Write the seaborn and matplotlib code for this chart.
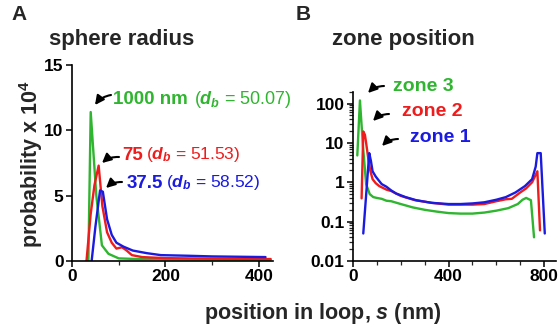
import numpy as np
import pandas as pd
import matplotlib
matplotlib.use("Agg")
import matplotlib.pyplot as plt
import seaborn as sns

# ---- data ----
# panel A: sphere radius, probability x 1e4
a_s_1000 = [35, 40, 52, 64, 78, 100, 140, 250, 425]
a_p_1000 = [0, 11.4, 5.0, 1.2, 0.55, 0.2, 0.15, 0.12, 0.1]
a_s_75 = [31, 40, 48, 57, 65, 75, 85, 95, 107, 117, 128, 150, 200, 300, 425]
a_p_75 = [0, 3.6, 5.8, 7.3, 4.2, 2.2, 1.4, 0.95, 1.05, 0.8, 0.45, 0.3, 0.22, 0.18, 0.15]
a_s_375 = [42, 50, 60, 66, 75, 85, 95, 110, 130, 160, 190, 250, 300, 414]
a_p_375 = [0, 2.6, 5.4, 5.3, 3.2, 2.0, 1.4, 1.1, 0.8, 0.6, 0.45, 0.4, 0.35, 0.3]

# panel B: zone position (log scale)
b_s_z3 = [18, 29, 42, 55, 70, 85, 100, 120, 140, 160, 200, 250, 300, 350, 400,
          450, 500, 550, 600, 650, 690, 710, 725, 745, 758]
b_v_z3 = [4.8, 120, 8, 0.9, 0.5, 0.42, 0.4, 0.38, 0.34, 0.33, 0.28, 0.23, 0.2, 0.18, 0.165,
          0.16, 0.16, 0.17, 0.19, 0.22, 0.28, 0.36, 0.4, 0.35, 0.04]
b_s_z2 = [36, 43, 50, 56, 64, 72, 82, 95, 110, 140, 160, 200, 260, 330, 400, 450, 500,
          550, 600, 640, 665, 700, 725, 750, 772, 783]
b_v_z2 = [0.39, 19.5, 16, 9, 4, 2.0, 1.2, 0.95, 0.8, 0.65, 0.6, 0.45, 0.35, 0.3, 0.27, 0.27,
          0.27, 0.28, 0.33, 0.37, 0.38, 0.55, 0.7, 1.0, 1.9, 0.06]
b_s_z1 = [43, 68, 75, 82, 95, 106, 120, 140, 160, 180, 220, 265, 330, 400, 450, 500, 550,
          600, 640, 680, 720, 750, 765, 772, 786, 803]
b_v_z1 = [0.05, 5.5, 3.5, 1.9, 1.4, 1.15, 0.9, 0.77, 0.62, 0.52, 0.42, 0.35, 0.3, 0.28, 0.28,
          0.29, 0.31, 0.36, 0.42, 0.55, 0.8, 1.2, 2.5, 5.5, 5.5, 0.05]

a_ticks_x = [0, 200, 400]
a_ticks_y = [0, 5, 10, 15]
b_ticks_x = [0, 400, 800]
b_ticks_y = [0.01, 0.1, 1, 10, 100]
b_tick_labels_y = ["0.01", "0.1", "1", "10", "100"]

GREEN = "#2fb52f"
RED = "#ee1c1c"
BLUE = "#1a1ae0"

sns.set_style("ticks")
plt.rcParams["font.family"] = ["Liberation Sans", "DejaVu Sans"]
plt.rcParams["font.weight"] = "bold"
plt.rcParams["mathtext.fontset"] = "custom"
plt.rcParams["mathtext.rm"] = "Liberation Sans"
plt.rcParams["mathtext.it"] = "Liberation Sans:italic"
plt.rcParams["mathtext.bf"] = "Liberation Sans:bold"
plt.rcParams["mathtext.bfit"] = "Liberation Sans:italic:bold"

W, H = 558, 329
fig = plt.figure(figsize=(W / 100, H / 100), dpi=100)


def fx(x):
    return x / W


def fy(y):
    return 1 - y / H


axA = fig.add_axes([fx(72), fy(261), (273 - 72) / W, (261 - 65) / H])
axB = fig.add_axes([fx(353), fy(261), (556 - 353) / W, (261 - 91.7) / H])

lw = 1.7
dfA = [(a_s_1000, a_p_1000, GREEN), (a_s_75, a_p_75, RED), (a_s_375, a_p_375, BLUE)]
for s, p, c in dfA:
    sns.lineplot(x=s, y=p, ax=axA, color=c, lw=lw, sort=False, estimator=None)

dfB = [(b_s_z3, b_v_z3, GREEN), (b_s_z2, b_v_z2, RED), (b_s_z1, b_v_z1, BLUE)]
for s, v, c in dfB:
    sns.lineplot(x=s, y=v, ax=axB, color=c, lw=lw, sort=False, estimator=None)

# axis A
axA.set_xlim(0, 430)
axA.set_ylim(0, 15)
axA.set_xticks(a_ticks_x)
axA.set_xticks([100, 300], minor=True)
axA.set_yticks(a_ticks_y)
axA.set_xlabel("")
axA.set_ylabel("")

# axis B
axB.set_yscale("log")
axB.set_xlim(0, 850)
axB.set_ylim(0.01, 200)
axB.set_xticks(b_ticks_x)
axB.set_xticks([100, 200, 300, 500, 600, 700], minor=True)
axB.set_yticks(b_ticks_y)
axB.set_yticklabels(b_tick_labels_y)
axB.set_xlabel("")
axB.set_ylabel("")

for ax in (axA, axB):
    sns.despine(ax=ax)
    for sp in ("left", "bottom"):
        ax.spines[sp].set_linewidth(1.2)
        ax.spines[sp].set_color("black")
    ax.tick_params(which="major", length=4, width=1.1, labelsize=12.5, pad=2, colors="black")
    ax.tick_params(which="minor", length=3, width=0.9)
    for lab in ax.get_xticklabels() + ax.get_yticklabels():
        lab.set_fontweight("bold")

# panel letters and titles
fig.text(fx(11), fy(14), "A", fontsize=15, fontweight="bold", va="center", ha="left")
fig.text(fx(296), fy(14), "B", fontsize=15, fontweight="bold", va="center", ha="left")
fig.text(fx(122), fy(40), "sphere radius", fontsize=16, fontweight="bold", va="center", ha="center")
fig.text(fx(403), fy(40), "zone position", fontsize=16, fontweight="bold", va="center", ha="center")

fig.text(fx(323), fy(313), r"position in loop, $\mathbfit{s}$ (nm)", fontsize=15.5,
         fontweight="bold", ha="center", va="center")
fig.text(fx(31), fy(164), r"probability x 10$^\mathbf{4}$", fontsize=15.5, fontweight="bold",
         rotation=90, ha="center", va="center")

# annotations panel A
fig.text(fx(113), fy(100), "1000 nm", color=GREEN, fontsize=13.5, fontweight="bold", va="center")
fig.text(fx(194), fy(100), r"($d_b$ = 50.07)", color=GREEN, fontsize=13, fontweight="normal", va="center")
fig.text(fx(122), fy(155), "75", color=RED, fontsize=13.5, fontweight="bold", va="center")
fig.text(fx(146), fy(155), r"($d_b$ = 51.53)", color=RED, fontsize=12.5, fontweight="normal", va="center")
fig.text(fx(127), fy(183), "37.5", color=BLUE, fontsize=13.5, fontweight="bold", va="center")
fig.text(fx(166), fy(183), r"($d_b$ = 58.52)", color=BLUE, fontsize=12.5, fontweight="normal", va="center")

# annotations panel B
fig.text(fx(393), fy(87), "zone 3", color=GREEN, fontsize=14, fontweight="bold", va="center")
fig.text(fx(402), fy(111), "zone 2", color=RED, fontsize=14, fontweight="bold", va="center")
fig.text(fx(410), fy(138), "zone 1", color=BLUE, fontsize=14, fontweight="bold", va="center")

arrows = [
    ((111, 95), (95, 105)),
    ((119, 157), (102, 163)),
    ((122, 182), (106, 188)),
    ((384, 86), (368, 93)),
    ((389, 114), (373, 121)),
    ((398, 139), (382, 146)),
]
for (x0, y0), (x1, y1) in arrows:
    fig.add_artist(matplotlib.patches.FancyArrowPatch(
        (fx(x0), fy(y0)), (fx(x1), fy(y1)), transform=fig.transFigure,
        connectionstyle="arc3,rad=0.2", arrowstyle="-|>,head_length=0.6,head_width=0.3",
        color="black", lw=1.5, mutation_scale=9, shrinkA=0, shrinkB=0))

fig.savefig("out.png", dpi=100)
